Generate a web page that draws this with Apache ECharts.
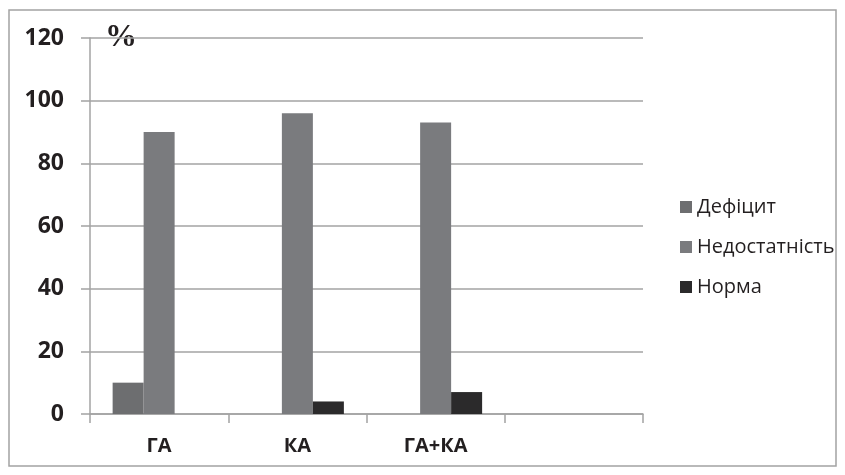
<!DOCTYPE html>
<html><head><meta charset="utf-8">
<script src="https://cdn.jsdelivr.net/npm/echarts@6/dist/echarts.min.js"></script>
<style>html,body{margin:0;padding:0;background:#fff}#c{width:845px;height:475px}</style>
</head><body><div id="c"></div>
<script>
const categories = ['ГА', 'КА', 'ГА+КА', ''];
const deficit = [10, 0, 0, null];
const insufficiency = [90, 96, 93, null];
const norm = [0, 4, 7, null];
const seriesNames = ['Дефіцит', 'Недостатність', 'Норма'];
const yTicks = [0, 20, 40, 60, 80, 100, 120];

const chart = echarts.init(document.getElementById('c'), null, {renderer: 'canvas'});
const colors = ['#6d6e70', '#7a7b7e', '#2b2a2b'];
const gridColor = '#a3a3a3';
chart.setOption({
  animation: false,
  backgroundColor: '#fff',
  color: colors,
  grid: {left: 90, right: 202, top: 38, bottom: 61, containLabel: false},
  legend: {
    orient: 'vertical', left: 675, top: 192,
    itemWidth: 12, itemHeight: 12, itemGap: 20,
    icon: 'rect',
    textStyle: {fontFamily: 'Open Sans', fontSize: 20, color: '#231f20', padding: [0, 0, 0, 0]},
    data: seriesNames
  },
  graphic: [
    {type: 'rect', shape: {x: 9, y: 10, width: 827, height: 456}, style: {fill: null, stroke: gridColor, lineWidth: 1.5}, silent: true},
    {type: 'text', style: {x: 105, y: 22, text: '%', textBaseline: 'top', font: 'bold 32px "Liberation Serif"', fill: '#231f20'}}
  ],
  xAxis: {
    type: 'category', data: categories,
    axisLine: {lineStyle: {color: gridColor, width: 1.5}},
    axisTick: {show: true, alignWithLabel: false, length: 9, lineStyle: {color: gridColor, width: 1.5}},
    axisLabel: {margin: 22, fontFamily: 'Open Sans', fontWeight: 'bold', fontSize: 20, color: '#231f20'}
  },
  yAxis: {
    type: 'value', min: 0, max: 120, interval: 20,
    axisLine: {show: true, lineStyle: {color: gridColor, width: 1.5}},
    axisTick: {show: true, length: 9, lineStyle: {color: gridColor, width: 1.5}},
    splitLine: {lineStyle: {color: gridColor, width: 1.5}},
    axisLabel: {margin: 26, fontFamily: 'Open Sans', fontWeight: 'bold', fontSize: 23, color: '#231f20',
      formatter: v => yTicks.includes(v) ? String(v) : ''}
  },
  series: [
    {name: seriesNames[0], type: 'bar', data: deficit, barWidth: 31, barGap: '0%'},
    {name: seriesNames[1], type: 'bar', data: insufficiency, barWidth: 31, barGap: '0%'},
    {name: seriesNames[2], type: 'bar', data: norm, barWidth: 31, barGap: '0%'}
  ]
});
</script></body></html>
